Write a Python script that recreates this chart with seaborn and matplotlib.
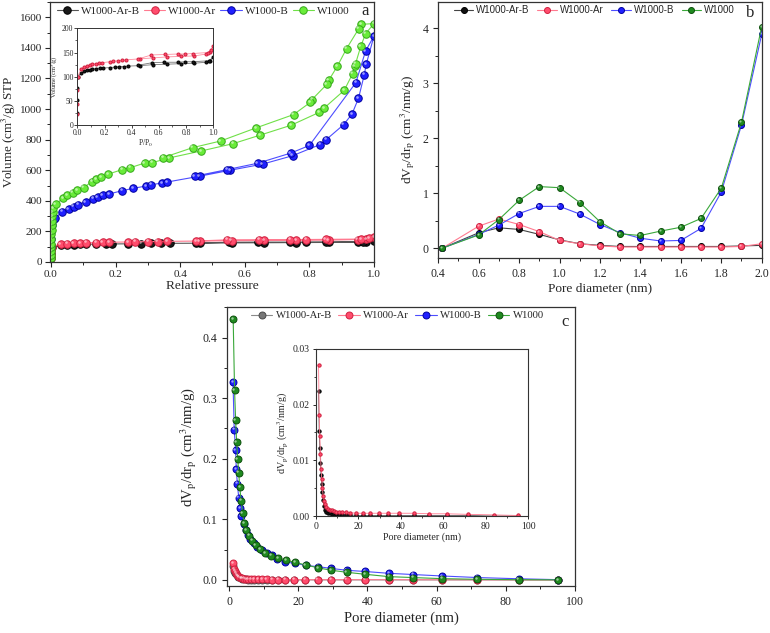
import numpy as np
import pandas as pd
import matplotlib
matplotlib.use("Agg")
import matplotlib.pyplot as plt
from matplotlib.transforms import offset_copy
from matplotlib.ticker import MultipleLocator, FormatStrFormatter
import seaborn as sns

# ---------------- data ----------------
labels = ["W1000-Ar-B", "W1000-Ar", "W1000-B", "W1000"]

# (a) N2 isotherms: adsorption branch followed by desorption branch
p_arb = [0.0002, 0.0004, 0.0007, 0.002, 0.03, 0.05, 0.07, 0.09, 0.11, 0.14, 0.17, 0.19, 0.24, 0.28,
         0.31, 0.34, 0.37, 0.46, 0.56, 0.66, 0.76, 0.86, 0.95, 0.975, 1.0,
         0.965, 0.85, 0.79, 0.74, 0.64, 0.55, 0.45]
v_arb = [25, 52, 77, 100, 108, 111, 113, 115, 116, 117, 118, 118, 119, 120,
         121, 121, 122, 123, 125, 126, 127, 128, 130, 132, 140,
         133, 131, 131, 130, 130, 129, 124]
p_ar = [0.0002, 0.0004, 0.0007, 0.002, 0.03, 0.05, 0.07, 0.09, 0.11, 0.14, 0.16, 0.18, 0.24, 0.26,
        0.30, 0.33, 0.36, 0.46, 0.56, 0.66, 0.76, 0.86, 0.95, 0.975, 1.0,
        0.985, 0.96, 0.85, 0.79, 0.74, 0.645, 0.545, 0.45]
v_ar = [24, 43, 73, 100, 117, 120, 122, 124, 126, 127, 128, 129, 131, 132,
        133, 134, 135, 137, 139, 141, 142, 143, 147, 151, 163,
        155, 150, 148, 147, 147, 146, 145, 137]
p_b = [0.0002, 0.0005, 0.001, 0.002, 0.004, 0.008, 0.014, 0.035, 0.055, 0.07, 0.085, 0.107, 0.13,
       0.145, 0.16, 0.18, 0.22, 0.255, 0.295, 0.31, 0.345, 0.36, 0.46, 0.555, 0.655, 0.748, 0.833,
       0.852, 0.906, 0.932, 0.952, 0.970, 0.976, 1.0,
       0.974, 0.944, 0.8, 0.742, 0.64, 0.545, 0.445]
v_b = [100, 150, 200, 240, 265, 280, 290, 328, 345, 362, 375, 393, 413,
       425, 436, 445, 466, 482, 497, 505, 517, 523, 561, 600, 640, 695, 768,
       800, 898, 968, 1070, 1225, 1293, 1478,
       1380, 1173, 762, 712, 646, 604, 561]
p_w = [0.0002, 0.0004, 0.0006, 0.0008, 0.001, 0.0013, 0.0016, 0.002, 0.0025, 0.003, 0.004, 0.005,
       0.007, 0.0145, 0.038, 0.051, 0.067, 0.082, 0.101, 0.127, 0.141, 0.155, 0.178, 0.22, 0.246,
       0.29, 0.314, 0.365, 0.465, 0.564, 0.648, 0.743, 0.831, 0.846, 0.908, 0.934, 0.940, 0.943,
       0.959, 0.974, 1.0,
       0.96, 0.953, 0.915, 0.887, 0.86, 0.854, 0.808, 0.803, 0.751, 0.635, 0.525, 0.439, 0.348]
v_w = [25, 45, 70, 95, 120, 150, 180, 210, 240, 270, 300, 325,
       350, 377, 419, 436, 454, 469, 486, 526, 543, 554, 575, 604, 617,
       647, 650, 680, 726, 774, 830, 894, 979, 1007, 1123, 1232, 1280, 1297,
       1410, 1493, 1559,
       1554, 1526, 1395, 1282, 1188, 1162, 1062, 1044, 964, 877, 791, 748, 683]

# (b) micropore size distribution
d_micro = [0.42, 0.6, 0.7, 0.8, 0.9, 1.0, 1.1, 1.2, 1.3, 1.4, 1.5, 1.6, 1.7, 1.8, 1.9, 2.0]
b_arb = [0, 0.28, 0.37, 0.34, 0.25, 0.15, 0.08, 0.05, 0.03, 0.03, 0.03, 0.03, 0.03, 0.03, 0.04, 0.05]
b_ar = [0, 0.40, 0.53, 0.43, 0.30, 0.14, 0.08, 0.04, 0.02, 0.02, 0.02, 0.02, 0.02, 0.02, 0.03, 0.08]
b_b = [0, 0.25, 0.42, 0.63, 0.76, 0.76, 0.62, 0.43, 0.28, 0.18, 0.13, 0.14, 0.36, 1.02, 2.24, 3.89]
b_w = [0, 0.24, 0.52, 0.87, 1.12, 1.10, 0.83, 0.48, 0.26, 0.23, 0.31, 0.38, 0.54, 1.09, 2.29, 4.03]

# (c) meso/macropore size distribution
d_ar = [1.2, 1.5, 1.8, 2.1, 2.4, 2.7, 3.0, 3.4, 3.8, 4.3, 4.9, 5.6, 6.4, 7.3, 8.3, 9.5, 10.9, 12.4,
        14.2, 16.2, 18.9, 22.0, 25.6, 29.6, 34.0, 39.3, 46.2, 53.1, 61.5, 71.8, 83.7, 95.2]
c_arb = [0.0225, 0.0153, 0.0123, 0.0095, 0.0074, 0.0057, 0.0044, 0.0029, 0.0018, 0.0011,
         0.0008, 0.0006, 0.0005, 0.0004, 0.0003, 0.0003, 0.0002, 0.0002, 0.0002, 0.0002,
         0.0001, 0.0001, 0.0001, 0.0001, 0.0001, 0.0001, 0.0001, 0.0001, 0.0001, 0.0001, 0.0, 0.0]
c_ar = [0.0272, 0.0181, 0.0144, 0.0111, 0.0084, 0.0066, 0.0050, 0.0036, 0.0027, 0.0021,
        0.0016, 0.0013, 0.0011, 0.0010, 0.0009, 0.0008, 0.0008, 0.0007, 0.0007, 0.0006,
        0.0005, 0.0005, 0.0005, 0.0005, 0.0005, 0.0005, 0.0005, 0.0004, 0.0004, 0.0003, 0.0002, 0.0001]
d_b = [1.15, 1.5, 1.9, 2.1, 2.4, 2.8, 3.2, 3.6, 4.2, 4.8, 5.5, 6.2, 7.2, 8.2, 9.4, 10.9, 12.4, 14.0,
       16.3, 19.0, 22.1, 25.7, 29.6, 34.0, 39.3, 46.2, 53.1, 61.5, 71.8, 83.7, 95.2]
c_b = [0.326, 0.248, 0.214, 0.183, 0.159, 0.136, 0.119, 0.105, 0.093, 0.083, 0.075, 0.067, 0.061,
       0.055, 0.050, 0.045, 0.041, 0.034, 0.029, 0.028, 0.024, 0.022, 0.019, 0.016, 0.014, 0.011,
       0.009, 0.0066, 0.004, 0.002, 0.0005]
d_w = [1.2, 1.6, 1.9, 2.2, 2.5, 2.8, 3.1, 3.5, 3.9, 4.4, 5.0, 5.7, 6.6, 7.7, 9.0, 10.5, 12.2, 14.1,
       16.4, 19.0, 22.1, 25.7, 29.6, 34.0, 39.3, 46.2, 53.1, 61.5, 71.8, 83.7, 95.2]
c_w = [0.430, 0.313, 0.264, 0.227, 0.200, 0.177, 0.153, 0.131, 0.110, 0.094, 0.082, 0.073, 0.065,
       0.058, 0.051, 0.044, 0.040, 0.036, 0.033, 0.029, 0.025, 0.020, 0.016, 0.0127, 0.0094, 0.0055,
       0.004, 0.0022, 0.0011, 0.0005, 0.0002]

# ---------------- style ----------------
sns.set_style("ticks")
plt.rcParams['font.family'] = ['Liberation Serif', 'DejaVu Serif']
plt.rcParams['mathtext.fontset'] = 'stix'
plt.rcParams['xtick.direction'] = 'out'
plt.rcParams['ytick.direction'] = 'out'

fig = plt.figure(figsize=(7.7, 6.33), dpi=100)


def series(ax, x, y, face, edge, line, ms, label=None, lw=0.8, hl=True):
    df = pd.DataFrame({'x': x, 'y': y})
    sns.lineplot(data=df, x='x', y='y', ax=ax, estimator=None, sort=False, color=line, lw=lw,
                 marker='o', ms=ms, mfc=face, mec=edge, mew=0.7, label=label, legend=False)
    if hl:
        # small light spot so the markers look like shaded balls
        tr = offset_copy(ax.transData, fig=fig, x=-ms * 0.18, y=ms * 0.18, units='points')
        ax.plot(x, y, ls='none', marker='o', ms=ms * 0.35, color='white', alpha=0.55,
                mew=0, transform=tr, clip_on=True)


def frame(ax, lw=0.9):
    for s in ax.spines.values():
        s.set_visible(True)
        s.set_linewidth(lw)
        s.set_color('#333333')


# ---------------- (a) ----------------
ax_a = fig.add_axes([0.0649, 0.5861, 0.4208, 0.4107])
col_a = [('#1a1a1a', '#000000', '#555555'), ('#ff4d6d', '#d0203f', '#ff7a90'),
         ('#2020ff', '#0000a0', '#4d4dff'), ('#6aec3a', '#35a81a', '#70e048')]
for (px, vy), c, lab in zip([(p_arb, v_arb), (p_ar, v_ar), (p_b, v_b), (p_w, v_w)], col_a, labels):
    series(ax_a, px, vy, c[0], c[1], c[2], 5.4, label=lab)
ax_a.set_xlim(-0.003, 1.0)
ax_a.set_ylim(0, 1700)
ax_a.xaxis.set_major_locator(MultipleLocator(0.2))
ax_a.xaxis.set_minor_locator(MultipleLocator(0.1))
ax_a.yaxis.set_major_locator(MultipleLocator(200))
ax_a.yaxis.set_minor_locator(MultipleLocator(100))
ax_a.xaxis.set_major_formatter(FormatStrFormatter('%.1f'))
ax_a.tick_params(labelsize=8, length=3.5, width=0.8, pad=2)
ax_a.tick_params(which='minor', length=2, width=0.7)
ax_a.set_xlabel("Relative pressure", fontsize=9.6, labelpad=1)
ax_a.set_ylabel("Volume (cm$^3$/g) STP", fontsize=9.4)
ax_a.yaxis.set_label_coords(-0.1, 0.5)
frame(ax_a)
ax_a.legend(loc='upper left', bbox_to_anchor=(0.0, 1.01), ncol=4, frameon=False, fontsize=8,
            handlelength=1.9, handletextpad=0.3, columnspacing=0.35, borderaxespad=0.2)
ax_a.text(0.972, 0.966, "a", transform=ax_a.transAxes, fontsize=12, ha='center', va='center')

# inset (a)
ax_ai = fig.add_axes([0.1004, 0.8021, 0.1766, 0.1532])
series(ax_ai, p_arb, v_arb, '#1a1a1a', '#000000', '#777777', 2.2, lw=0.6, hl=False)
series(ax_ai, p_ar, v_ar, '#ff4d6d', '#d0203f', '#ff8fa0', 2.2, lw=0.6, hl=False)
ax_ai.set_xlim(0, 1.0)
ax_ai.set_ylim(0, 200)
ax_ai.xaxis.set_major_locator(MultipleLocator(0.2))
ax_ai.xaxis.set_minor_locator(MultipleLocator(0.1))
ax_ai.yaxis.set_major_locator(MultipleLocator(50))
ax_ai.yaxis.set_minor_locator(MultipleLocator(25))
ax_ai.xaxis.set_major_formatter(FormatStrFormatter('%.1f'))
ax_ai.tick_params(labelsize=5.5, length=2, width=0.6, pad=1)
ax_ai.tick_params(which='minor', length=1.2, width=0.5)
ax_ai.set_xlabel("P/P$_0$", fontsize=5.5, labelpad=0.5)
ax_ai.set_ylabel("Volume (cm$^3$/g)", fontsize=4.5, labelpad=1)
frame(ax_ai, 0.7)

# ---------------- (b) ----------------
ax_b = fig.add_axes([0.5692, 0.5924, 0.42, 0.4044])
col_b = [('#111111', '#000000', '#444444'), ('#ff4d6d', '#d0203f', '#ff7a90'),
         ('#2020ff', '#0000a0', '#4d4dff'), ('#1f8a1f', '#0d500d', '#3aa83a')]
for yy, c, lab in zip([b_arb, b_ar, b_b, b_w], col_b, labels):
    series(ax_b, d_micro, yy, c[0], c[1], c[2], 4.3, label=lab)
ax_b.set_xlim(0.4, 2.0)
ax_b.set_ylim(-0.18, 4.48)
ax_b.xaxis.set_major_locator(MultipleLocator(0.2))
ax_b.xaxis.set_minor_locator(MultipleLocator(0.1))
ax_b.yaxis.set_major_locator(MultipleLocator(1))
ax_b.yaxis.set_minor_locator(MultipleLocator(0.5))
ax_b.xaxis.set_major_formatter(FormatStrFormatter('%.1f'))
ax_b.tick_params(labelsize=8.5, length=3.5, width=0.8)
ax_b.tick_params(which='minor', length=2, width=0.7)
ax_b.set_xlabel("Pore diameter (nm)", fontsize=9.6, labelpad=2)
ax_b.set_ylabel("dV$_\\mathrm{p}$/dr$_\\mathrm{p}$ (cm$^3$/nm/g)", fontsize=9.6, labelpad=4)
frame(ax_b)
ax_b.legend(loc='upper left', bbox_to_anchor=(0.03, 1.01), ncol=4, frameon=False,
            prop={'family': ['Liberation Sans', 'DejaVu Sans'], 'size': 7},
            handlelength=2.0, handletextpad=0.3, columnspacing=0.8, borderaxespad=0.2)
ax_b.text(0.964, 0.956, "b", transform=ax_b.transAxes, fontsize=12, ha='center', va='center')

# ---------------- (c) ----------------
ax_c = fig.add_axes([0.2952, 0.0742, 0.4516, 0.4403])
col_c = [('#777777', '#4a4a4a', '#8a8a8a'), ('#ff4d6d', '#d0203f', '#ff7a90'),
         ('#2020ff', '#0000a0', '#4d4dff'), ('#1f8a1f', '#0d500d', '#3aa83a')]
for (xx, yy), c, lab in zip([(d_ar, c_arb), (d_ar, c_ar), (d_b, c_b), (d_w, c_w)], col_c, labels):
    series(ax_c, xx, yy, c[0], c[1], c[2], 5.0, label=lab)
ax_c.set_xlim(-0.5, 100)
ax_c.set_ylim(-0.01, 0.45)
ax_c.xaxis.set_major_locator(MultipleLocator(20))
ax_c.xaxis.set_minor_locator(MultipleLocator(10))
ax_c.yaxis.set_major_locator(MultipleLocator(0.1))
ax_c.yaxis.set_minor_locator(MultipleLocator(0.05))
ax_c.yaxis.set_major_formatter(FormatStrFormatter('%.1f'))
ax_c.tick_params(labelsize=8.6, length=3.5, width=0.8)
ax_c.tick_params(which='minor', length=2, width=0.7)
ax_c.set_xlabel("Pore diameter (nm)", fontsize=10.6, labelpad=3)
ax_c.set_ylabel("dV$_\\mathrm{p}$/dr$_\\mathrm{p}$ (cm$^3$/nm/g)", fontsize=10.6, labelpad=3)
frame(ax_c)
ax_c.legend(loc='upper left', bbox_to_anchor=(0.05, 1.01), ncol=4, frameon=False, fontsize=7.7,
            handlelength=2.0, handletextpad=0.3, columnspacing=0.6, borderaxespad=0.2)
ax_c.text(0.971, 0.948, "c", transform=ax_c.transAxes, fontsize=12, ha='center', va='center')

# inset (c)
ax_ci = fig.add_axes([0.4104, 0.1848, 0.2757, 0.2639])
series(ax_ci, d_ar, c_arb, '#1a1a1a', '#000000', '#555555', 2.4, lw=0.6, hl=False)
series(ax_ci, d_ar, c_ar, '#ff4d6d', '#d0203f', '#ff7a90', 2.4, lw=0.6, hl=False)
ax_ci.set_xlim(0, 100)
ax_ci.set_ylim(0, 0.03)
ax_ci.xaxis.set_major_locator(MultipleLocator(20))
ax_ci.xaxis.set_minor_locator(MultipleLocator(10))
ax_ci.yaxis.set_major_locator(MultipleLocator(0.01))
ax_ci.yaxis.set_minor_locator(MultipleLocator(0.005))
ax_ci.yaxis.set_major_formatter(FormatStrFormatter('%.2f'))
ax_ci.tick_params(labelsize=7, length=2.5, width=0.7, pad=2)
ax_ci.tick_params(which='minor', length=1.5, width=0.6)
ax_ci.set_xlabel("Pore diameter (nm)", fontsize=7.2, labelpad=1)
ax_ci.set_ylabel("dV$_\\mathrm{p}$/dr$_\\mathrm{p}$ (cm$^3$/nm/g)", fontsize=7.2, labelpad=2)
frame(ax_ci, 0.8)

fig.savefig("out.png", dpi=100)
